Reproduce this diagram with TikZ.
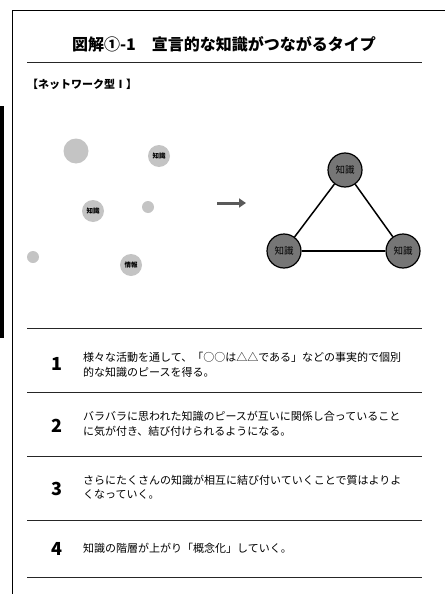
\documentclass[tikz,border=0pt]{standalone}
\usepackage{fontspec}
\setmainfont{Noto Sans CJK JP}
\usetikzlibrary{arrows.meta}
\definecolor{lightdot}{HTML}{C4C4C4}
\definecolor{darkdot}{HTML}{767676}
\definecolor{arrowgray}{HTML}{5A5A5A}
\begin{document}
\begin{tikzpicture}[x=1pt,y=-1pt,
  piece/.style={circle,fill=lightdot,inner sep=0pt,minimum size=#1,font=\fontsize{6.5}{7}\selectfont\bfseries},
  know/.style={circle,draw=black,line width=1.2pt,fill=darkdot,minimum size=34pt,inner sep=0pt,font=\fontsize{9.5}{10}\selectfont},
  link/.style={line width=1.5pt,black},
  rulestyle/.style={line width=0.9pt,black!85},
  num/.style={font=\fontsize{18}{20}\selectfont\bfseries,anchor=center,inner sep=0pt},
  body/.style={anchor=west,align=left,font=\fontsize{11}{14.5}\selectfont,inner sep=0pt},
]
\useasboundingbox (0,0) rectangle (445,594);
\fill[white] (0,0) rectangle (445,594);
% frame
\draw[line width=0.8pt] (12,594) -- (12,10) -- (445,10);
\fill[black] (0,106) rectangle (4,338);
% title
\node[inner sep=0pt] (title) at (224,44) {\fontsize{16}{18}\selectfont\bfseries 図解①-1　宣言的な知識がつながるタイプ};
\draw[rulestyle] (27,62) -- (422,62);
\node[anchor=west,inner sep=0pt] (sub) at (27,84) {\fontsize{11}{12}\selectfont\bfseries 【ネットワーク型Ⅰ】};
% scattered pieces
\node[piece=25pt] (p1) at (76,151) {};
\node[piece=22pt] (p2) at (159,156) {知識};
\node[piece=22pt] (p3) at (93,211) {知識};
\node[piece=12pt] (p4) at (148,207) {};
\node[piece=12pt] (p5) at (33,257) {};
\node[piece=22pt] (p6) at (131,265) {情報};
% arrow
\coordinate (a0) at (217,203);
\coordinate (a1) at (246,203);
\draw[-{Triangle[length=7pt,width=9pt]},line width=3pt,arrowgray] (a0) -- (a1);
% network
\node[know] (k1) at (345,170) {知識};
\node[know] (k2) at (284,251) {知識};
\node[know] (k3) at (403,251) {知識};
\draw[link] (k1) -- (k2);
\draw[link] (k1) -- (k3);
\draw[link] (k2) -- (k3);
% table rules
\foreach \yy in {328,392,456,520,577} \draw[rulestyle] (27,\yy) -- (422,\yy);
% items
\node[num] (n1) at (57,364) {1};
\node[body] (t1) at (83,365) {様々な活動を通して、「○○は△△である」などの事実的で個別\\的な知識のピースを得る。};
\node[num] (n2) at (57,426) {2};
\node[body] (t2) at (83,424) {バラバラに思われた知識のピースが互いに関係し合っていること\\に気が付き、結び付けられるようになる。};
\node[num] (n3) at (57,489) {3};
\node[body] (t3) at (83,487) {さらにたくさんの知識が相互に結び付いていくことで質はよりよ\\くなっていく。};
\node[num] (n4) at (57,549) {4};
\node[body] (t4) at (83,548) {知識の階層が上がり「概念化」していく。};
\end{tikzpicture}
\end{document}
